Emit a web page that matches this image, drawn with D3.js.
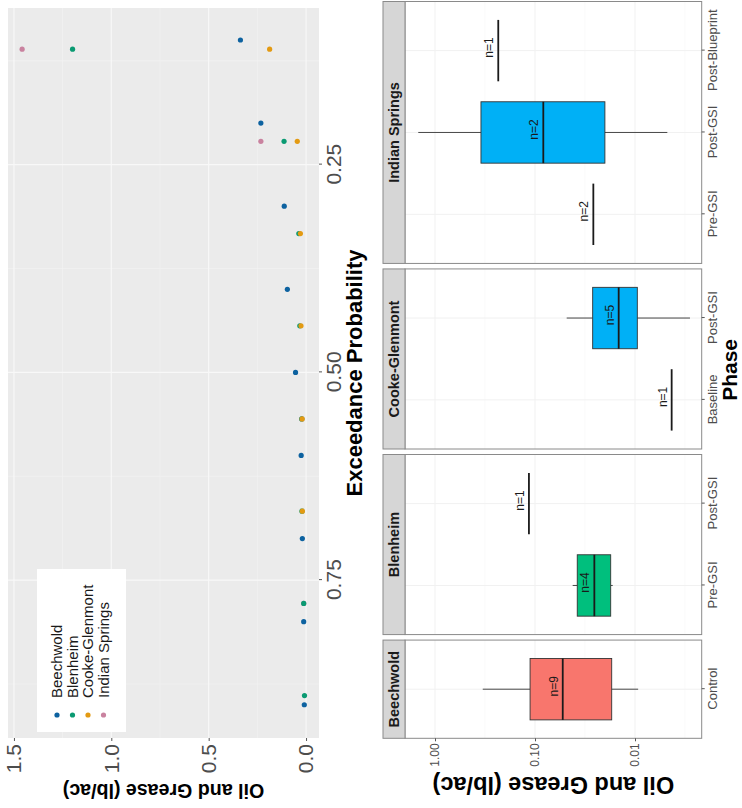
<!DOCTYPE html>
<html><head><meta charset="utf-8">
<script src="https://cdn.jsdelivr.net/npm/d3@7"></script>
<style>
body{margin:0;background:#fff}
svg{display:block}
text{font-family:"Liberation Sans",Arial,Helvetica,sans-serif}
</style>
</head><body>
<svg id="chart" width="742" height="808"></svg>
<script>
// ---------------- Data: exceedance probability plot ----------------
const sites = ["Beechwold", "Blenheim", "Cooke-Glenmont", "Indian Springs"];
const siteColors = ["#0d62a0", "#0a9a72", "#e39a12", "#c9829f"];
const probTicks = [0.25, 0.50, 0.75];
const valueTicks = [0.0, 0.5, 1.0, 1.5];

const beechwoldProb  = [0.1, 0.2, 0.3, 0.4, 0.5, 0.6, 0.7, 0.8, 0.9];
const beechwoldValue = [0.337, 0.232, 0.112, 0.096, 0.054, 0.025, 0.019, 0.012, 0.009];
const blenheimProb   = [0.111, 0.222, 0.333, 0.444, 0.556, 0.667, 0.778, 0.889];
const blenheimValue  = [1.199, 0.113, 0.037, 0.032, 0.022, 0.021, 0.012, 0.008];
const cookeProb      = [0.111, 0.222, 0.333, 0.444, 0.556, 0.667];
const cookeValue     = [0.187, 0.045, 0.029, 0.026, 0.020, 0.019];
const indianProb     = [0.111, 0.222, 0.556, 0.778];
const indianValue    = [1.458, 0.232, 0.022, 0.012];
// order in which the site layers are stacked (first = bottom)
const drawOrder = ["Indian Springs", "Beechwold", "Blenheim", "Cooke-Glenmont"];

// ---------------- Data: boxplots by site and phase ----------------
const boxSite   = ["Beechwold", "Blenheim", "Blenheim", "Cooke-Glenmont", "Cooke-Glenmont", "Indian Springs", "Indian Springs", "Indian Springs"];
const boxPhase  = ["Control", "Pre-GSI", "Post-GSI", "Baseline", "Post-GSI", "Pre-GSI", "Post-GSI", "Post-Blueprint"];
const boxN      = [9, 4, 1, 1, 5, 2, 2, 1];
const boxMin    = [0.0093, 0.0167, 0.115, 0.0043, 0.00282, 0.0261, 0.00475, 0.233];
const boxQ1     = [0.0171, 0.0175, 0.115, 0.0043, 0.00948, 0.0261, 0.0200, 0.233];
const boxMedian = [0.0528, 0.0255, 0.115, 0.0043, 0.01456, 0.0261, 0.0826, 0.233];
const boxQ3     = [0.112, 0.0378, 0.115, 0.0043, 0.0265, 0.0261, 0.347, 0.233];
const boxMax    = [0.333, 0.042, 0.115, 0.0043, 0.0482, 0.0261, 1.47, 0.233];
const phaseLevels = ["Control", "Baseline", "Pre-GSI", "Post-GSI", "Post-Blueprint"];
const phaseColors = ["#F8766D", "#A3A500", "#00BF7D", "#00B0F6", "#E76BF3"];
const logTicks = [1, 0.1, 0.01];

// ---------------- Drawing (landscape figure rotated -90deg) ----------------
const svg = d3.select("#chart");
const root = svg.append("g").attr("transform", "translate(0,808) rotate(-90)");
const FONT_GREY = "#4d4d4d";

// ===== Top: exceedance probability scatter =====
const sp = {x0: 70, x1: 800, y0: 8, y1: 319};
const xS = d3.scaleLinear().domain([0.94, 0.0615]).range([sp.x0, sp.x1]);
const yS = d3.scaleLinear().domain([-0.0665, 1.5305]).range([sp.y1, sp.y0]);

const sg = root.append("g");
sg.append("rect").attr("x", sp.x0).attr("y", sp.y0)
  .attr("width", sp.x1 - sp.x0).attr("height", sp.y1 - sp.y0).attr("fill", "#ebebeb");

const probMinor = [0.125, 0.375, 0.625, 0.875];
const valMinor = [0.25, 0.75, 1.25];
sg.selectAll("line.pminor").data(probMinor).join("line")
  .attr("x1", d => xS(d)).attr("x2", d => xS(d)).attr("y1", sp.y0).attr("y2", sp.y1)
  .attr("stroke", "#f3f3f3").attr("stroke-width", 0.6);
sg.selectAll("line.vminor").data(valMinor).join("line")
  .attr("y1", d => yS(d)).attr("y2", d => yS(d)).attr("x1", sp.x0).attr("x2", sp.x1)
  .attr("stroke", "#f3f3f3").attr("stroke-width", 0.6);
sg.selectAll("line.pmajor").data(probTicks).join("line")
  .attr("x1", d => xS(d)).attr("x2", d => xS(d)).attr("y1", sp.y0).attr("y2", sp.y1)
  .attr("stroke", "#f8f8f8").attr("stroke-width", 1.1);
sg.selectAll("line.vmajor").data(valueTicks).join("line")
  .attr("y1", d => yS(d)).attr("y2", d => yS(d)).attr("x1", sp.x0).attr("x2", sp.x1)
  .attr("stroke", "#f8f8f8").attr("stroke-width", 1.1);

// axes
const sxAxis = sg.append("g").attr("transform", `translate(0,${sp.y1})`)
  .call(d3.axisBottom(xS).tickValues(probTicks).tickFormat(d3.format(".2f")).tickSize(3).tickPadding(4));
const syAxis = sg.append("g").attr("transform", `translate(${sp.x0},0)`)
  .call(d3.axisLeft(yS).tickValues(valueTicks).tickFormat(d3.format(".1f")).tickSize(3).tickPadding(3));
[sxAxis, syAxis].forEach(a => {
  a.select(".domain").remove();
  a.selectAll(".tick line").attr("stroke", "#555");
  a.selectAll(".tick text").attr("fill", FONT_GREY).attr("font-size", 21).attr("font-family", "Liberation Sans, Arial, sans-serif");
});

// points
const seriesProb = [beechwoldProb, blenheimProb, cookeProb, indianProb];
const seriesValue = [beechwoldValue, blenheimValue, cookeValue, indianValue];
drawOrder.forEach(name => {
  const i = sites.indexOf(name);
  const pts = seriesProb[i].map((p, j) => ({p, v: seriesValue[i][j]}));
  sg.append("g").selectAll("circle").data(pts).join("circle")
    .attr("cx", d => xS(d.p)).attr("cy", d => yS(d.v)).attr("r", 2.6)
    .attr("fill", siteColors[i]);
});

// legend
const lg = sg.append("g");
lg.append("rect").attr("x", 76).attr("y", 37).attr("width", 163).attr("height", 89).attr("fill", "#fff");
sites.forEach((s, i) => {
  const yy = 57 + i * 15.5;
  lg.append("circle").attr("cx", 93).attr("cy", yy).attr("r", 2.6).attr("fill", siteColors[i]);
  lg.append("text").attr("x", 110).attr("y", yy).attr("dy", "0.36em")
    .attr("font-size", 15).attr("fill", "#1a1a1a").text(s);
});

// titles
sg.append("text").attr("x", (sp.x0 + sp.x1) / 2).attr("y", 362)
  .attr("text-anchor", "middle").attr("font-size", 22).attr("font-weight", "bold")
  .attr("fill", "#000").text("Exceedance Probability");
sg.append("text").attr("transform", `translate(24,${(sp.y0 + sp.y1) / 2}) rotate(-90)`)
  .attr("text-anchor", "middle").attr("font-size", 19.6).attr("font-weight", "bold")
  .attr("fill", "#000").text("Oil and Grease (lb/ac)");

// ===== Bottom: boxplots faceted by site =====
const bp = {y0: 405, y1: 701.7, stripTop: 383, left: 69.7, right: 806.5, gap: 5.5};
const yL = d3.scaleLog().domain([Math.pow(10, -2.667), Math.pow(10, 0.30)]).range([bp.y1, bp.y0]);
const boxes = boxSite.map((s, i) => ({
  site: s, phase: boxPhase[i], n: boxN[i],
  min: boxMin[i], q1: boxQ1[i], med: boxMedian[i], q3: boxQ3[i], max: boxMax[i]
}));
const facets = sites.map(s => ({site: s, phases: boxes.filter(b => b.site === s).map(b => b.phase)}));
const totalUnits = d3.sum(facets, f => f.phases.length + 0.2);
const unit = (bp.right - bp.left - bp.gap * (facets.length - 1)) / totalUnits;
let cursor = bp.left;
facets.forEach(f => {
  f.x0 = cursor;
  f.x1 = cursor + unit * (f.phases.length + 0.2);
  cursor = f.x1 + bp.gap;
  f.scale = d3.scalePoint().domain(f.phases).range([f.x0, f.x1]).padding(0.6);
});
const boxW = unit * 0.75;
const phaseColor = d3.scaleOrdinal().domain(phaseLevels).range(phaseColors);
const logMinor = [Math.pow(10, -0.5), Math.pow(10, -1.5), Math.pow(10, -2.5)];

const bg = root.append("g");
facets.forEach((f, fi) => {
  const g = bg.append("g");
  g.append("rect").attr("x", f.x0).attr("y", bp.y0).attr("width", f.x1 - f.x0).attr("height", bp.y1 - bp.y0)
    .attr("fill", "#fff");
  // grid
  g.selectAll("line.lmin").data(logMinor).join("line")
    .attr("x1", f.x0).attr("x2", f.x1).attr("y1", d => yL(d)).attr("y2", d => yL(d))
    .attr("stroke", "#f7f7f7").attr("stroke-width", 0.6);
  g.selectAll("line.lmaj").data(logTicks).join("line")
    .attr("x1", f.x0).attr("x2", f.x1).attr("y1", d => yL(d)).attr("y2", d => yL(d))
    .attr("stroke", "#f1f1f1").attr("stroke-width", 1);
  g.selectAll("line.cmaj").data(f.phases).join("line")
    .attr("x1", d => f.scale(d)).attr("x2", d => f.scale(d)).attr("y1", bp.y0).attr("y2", bp.y1)
    .attr("stroke", "#f1f1f1").attr("stroke-width", 1);

  // boxes
  const fb = boxes.filter(b => b.site === f.site);
  fb.forEach(b => {
    const cx = f.scale(b.phase);
    g.append("line").attr("x1", cx).attr("x2", cx).attr("y1", yL(b.max)).attr("y2", yL(b.q3))
      .attr("stroke", "#333").attr("stroke-width", 0.9);
    g.append("line").attr("x1", cx).attr("x2", cx).attr("y1", yL(b.q1)).attr("y2", yL(b.min))
      .attr("stroke", "#333").attr("stroke-width", 0.9);
    if (b.q3 > b.q1) {
      g.append("rect").attr("x", cx - boxW / 2).attr("y", yL(b.q3))
        .attr("width", boxW).attr("height", yL(b.q1) - yL(b.q3))
        .attr("fill", phaseColor(b.phase)).attr("stroke", "#333").attr("stroke-width", 0.9);
    }
    g.append("line").attr("x1", cx - boxW / 2).attr("x2", cx + boxW / 2)
      .attr("y1", yL(b.med)).attr("y2", yL(b.med))
      .attr("stroke", "#1a1a1a").attr("stroke-width", 1.8);
    g.append("text").attr("x", cx + 3).attr("y", yL(b.med) - 5)
      .attr("text-anchor", "middle").attr("font-size", 12).attr("fill", "#1a1a1a")
      .text("n=" + b.n);
  });

  // border
  g.append("rect").attr("x", f.x0).attr("y", bp.y0).attr("width", f.x1 - f.x0).attr("height", bp.y1 - bp.y0)
    .attr("fill", "none").attr("stroke", "#8a8a8a").attr("stroke-width", 1);
  // strip
  g.append("rect").attr("x", f.x0).attr("y", bp.stripTop).attr("width", f.x1 - f.x0).attr("height", bp.y0 - bp.stripTop)
    .attr("fill", "#d6d6d6").attr("stroke", "#8a8a8a").attr("stroke-width", 1);
  g.append("text").attr("x", (f.x0 + f.x1) / 2).attr("y", (bp.stripTop + bp.y0) / 2).attr("dy", "0.36em")
    .attr("text-anchor", "middle").attr("font-size", 14.5).attr("font-weight", "bold").attr("fill", "#1a1a1a")
    .text(f.site);

  // category axis
  const ca = g.append("g").attr("transform", `translate(0,${bp.y1})`)
    .call(d3.axisBottom(f.scale).tickSize(3).tickPadding(3));
  ca.select(".domain").remove();
  ca.selectAll(".tick line").attr("stroke", "#555");
  ca.selectAll(".tick text").attr("fill", FONT_GREY).attr("font-size", 13).attr("font-family", "Liberation Sans, Arial, sans-serif");

  if (fi === 0) {
    const la = g.append("g").attr("transform", `translate(${f.x0},0)`)
      .call(d3.axisLeft(yL).tickValues(logTicks).tickFormat(d3.format(".2f")).tickSize(3).tickPadding(2));
    la.select(".domain").remove();
    la.selectAll(".tick line").attr("stroke", "#555");
    la.selectAll(".tick text").attr("fill", FONT_GREY).attr("font-size", 12).attr("font-family", "Liberation Sans, Arial, sans-serif");
  }
});

bg.append("text").attr("x", (bp.left + bp.right) / 2).attr("y", 737)
  .attr("text-anchor", "middle").attr("font-size", 21).attr("font-weight", "bold").attr("fill", "#000")
  .text("Phase");
bg.append("text").attr("transform", `translate(31,${(bp.y0 + bp.y1) / 2}) rotate(-90)`)
  .attr("text-anchor", "middle").attr("font-size", 23.5).attr("font-weight", "bold").attr("fill", "#000")
  .text("Oil and Grease (lb/ac)");
</script>
</body></html>
